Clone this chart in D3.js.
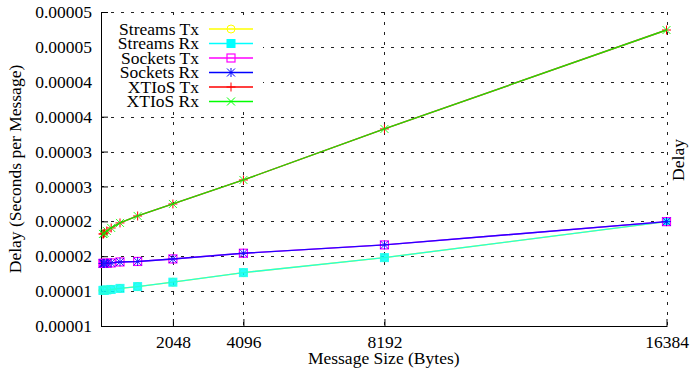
<!DOCTYPE html>
<html>
<head>
<meta charset="utf-8">
<script src="https://cdn.jsdelivr.net/npm/d3@7"></script>
<style>
  body { margin: 0; background: #fff; }
  svg { display: block; }
  svg text { font-family: "Liberation Serif", "Times New Roman", Times, "DejaVu Serif", serif; fill: #000; }
</style>
</head>
<body>
<div class="d3-here"></div>
<script>
// data
var sizes = [16, 32, 64, 128, 256, 512, 1024, 2048, 4096, 8192, 16384];
var streamsTx = [1.010e-5, 1.010e-5, 1.012e-5, 1.017e-5, 1.024e-5, 1.039e-5, 1.065e-5, 1.128e-5, 1.265e-5, 1.480e-5, 1.996e-5];
var streamsRx = [1.010e-5, 1.010e-5, 1.012e-5, 1.017e-5, 1.024e-5, 1.039e-5, 1.065e-5, 1.128e-5, 1.265e-5, 1.480e-5, 1.996e-5];
var socketsTx = [1.397e-5, 1.397e-5, 1.397e-5, 1.399e-5, 1.404e-5, 1.418e-5, 1.425e-5, 1.461e-5, 1.543e-5, 1.662e-5, 1.996e-5];
var socketsRx = [1.397e-5, 1.397e-5, 1.397e-5, 1.399e-5, 1.404e-5, 1.418e-5, 1.425e-5, 1.461e-5, 1.543e-5, 1.662e-5, 1.996e-5];
var xtiosTx = [1.819e-5, 1.819e-5, 1.834e-5, 1.862e-5, 1.905e-5, 1.977e-5, 2.077e-5, 2.249e-5, 2.593e-5, 3.324e-5, 4.742e-5];
var xtiosRx = [1.819e-5, 1.819e-5, 1.834e-5, 1.862e-5, 1.905e-5, 1.977e-5, 2.077e-5, 2.249e-5, 2.593e-5, 3.324e-5, 4.742e-5];

var seriesNames = ['Streams Tx', 'Streams Rx', 'Sockets Tx', 'Sockets Rx', 'XTIoS Tx', 'XTIoS Rx'];
var seriesValues = [streamsTx, streamsRx, socketsTx, socketsRx, xtiosTx, xtiosRx];
var seriesColors = ['#ffff00', '#00ffff', '#ff00ff', '#0000ff', '#ff0000', '#00ff00'];
var seriesMarks = ['circle', 'square', 'openSquare', 'star', 'plus', 'cross'];

var xTicks = [2048, 4096, 8192, 16384];
var yTicks = [0.000005, 0.00001, 0.000015, 0.00002, 0.000025, 0.00003, 0.000035, 0.00004, 0.000045, 0.00005];
var yTickLabels = ['0.00001', '0.00001', '0.00002', '0.00002', '0.00003', '0.00003', '0.00004', '0.00004', '0.00005', '0.00005'];

// options
var width = 690, height = 376;
var plotLeft = 101, plotRight = 666.5, plotTop = 12, plotBottom = 326;
var fontSize = 17.5;

var x = d3.scaleLinear().domain([-40, 16384]).range([plotLeft, plotRight]);
var y = d3.scaleLinear().domain([0.000005, 0.00005]).range([plotBottom, plotTop]);

var svg = d3.select('.d3-here').append('svg')
  .attr('width', width)
  .attr('height', height);

// grid
var grid = svg.append('g').attr('class', 'grid')
  .attr('stroke', '#222').attr('stroke-width', 1).attr('stroke-dasharray', '3,7');
grid.selectAll('.gy').data(yTicks.slice(1)).enter().append('line')
  .attr('x1', plotLeft).attr('x2', plotRight)
  .attr('y1', function(d) { return Math.round(y(d)) + 0.5; })
  .attr('y2', function(d) { return Math.round(y(d)) + 0.5; });
grid.selectAll('.gx').data(xTicks).enter().append('line')
  .attr('y1', plotTop).attr('y2', plotBottom)
  .attr('x1', function(d) { return Math.round(x(d)) + 0.5; })
  .attr('x2', function(d) { return Math.round(x(d)) + 0.5; });

// axes (ticks pointing inward, like the original)
var yAxis = d3.axisLeft(y).tickValues(yTicks).tickSize(-7).tickPadding(9)
  .tickFormat(function(d, i) { return yTickLabels[i]; });
var gy = svg.append('g').attr('transform', 'translate(' + plotLeft + ',0)').call(yAxis);

var xAxis = d3.axisBottom(x).tickValues(xTicks).tickSize(-7).tickPadding(10)
  .tickFormat(d3.format('d'));
var gx = svg.append('g').attr('transform', 'translate(0,' + plotBottom + ')').call(xAxis);

[gy, gx].forEach(function(g) {
  g.attr('font-family', null).attr('font-size', fontSize);
  g.select('.domain').remove();
  g.selectAll('line').attr('stroke', '#000');
});

svg.append('path')
  .attr('d', 'M' + (plotLeft + 0.5) + ',' + plotTop + 'V' + (plotBottom + 0.5) + 'H' + (plotRight + 1))
  .attr('fill', 'none').attr('stroke', '#000').attr('stroke-width', 1);

// axis titles
svg.append('text')
  .attr('x', (plotLeft + plotRight) / 2).attr('y', 364)
  .attr('text-anchor', 'middle').attr('font-size', fontSize)
  .text('Message Size (Bytes)');
svg.append('text')
  .attr('transform', 'translate(21,' + ((plotTop + plotBottom) / 2) + ') rotate(-90)')
  .attr('text-anchor', 'middle').attr('font-size', fontSize)
  .text('Delay (Seconds per Message)');
svg.append('text')
  .attr('transform', 'translate(684,160) rotate(-90)')
  .attr('text-anchor', 'middle').attr('font-size', fontSize)
  .text('Delay');

// markers
function drawMark(g, kind, color, cx, cy) {
  var s = 4;
  if (kind === 'circle') {
    g.append('circle').attr('cx', cx).attr('cy', cy).attr('r', s)
      .attr('fill', 'none').attr('stroke', color).attr('stroke-width', 1);
  } else if (kind === 'square') {
    g.append('rect').attr('x', cx - s).attr('y', cy - s).attr('width', 2 * s).attr('height', 2 * s)
      .attr('fill', color).attr('stroke', color).attr('stroke-width', 1);
  } else if (kind === 'openSquare') {
    g.append('rect').attr('x', cx - s).attr('y', cy - s).attr('width', 2 * s).attr('height', 2 * s)
      .attr('fill', 'none').attr('stroke', color).attr('stroke-width', 1.2);
  } else {
    var p = d3.path();
    if (kind === 'plus' || kind === 'star') {
      p.moveTo(cx - s - 0.5, cy); p.lineTo(cx + s + 0.5, cy);
      p.moveTo(cx, cy - s - 0.5); p.lineTo(cx, cy + s + 0.5);
    }
    if (kind === 'cross' || kind === 'star') {
      p.moveTo(cx - s, cy - s); p.lineTo(cx + s, cy + s);
      p.moveTo(cx - s, cy + s); p.lineTo(cx + s, cy - s);
    }
    g.append('path').attr('d', p.toString()).attr('fill', 'none')
      .attr('stroke', color).attr('stroke-width', 1);
  }
}

// series: lines and points (Rx drawn over Tx, slightly see-through)
var line = d3.line()
  .x(function(d) { return x(d[0]); })
  .y(function(d) { return y(d[1]); });

var plot = svg.append('g').attr('class', 'series');
seriesValues.forEach(function(vals, k) {
  var pts = sizes.map(function(s, i) { return [s, vals[i]]; });
  var g = plot.append('g').attr('opacity', k % 2 ? 0.85 : 1);
  g.append('path').datum(pts)
    .attr('d', line)
    .attr('fill', 'none')
    .attr('stroke', seriesColors[k])
    .attr('stroke-width', 1.4);
  pts.forEach(function(d) {
    drawMark(g, seriesMarks[k], seriesColors[k], x(d[0]), y(d[1]));
  });
});

// legend with white box
var legend = svg.append('g').attr('class', 'legend');
legend.append('rect')
  .attr('x', plotLeft + 1).attr('y', 19).attr('width', 161).attr('height', 92)
  .attr('fill', '#fff');
seriesNames.forEach(function(name, k) {
  var cy = 29 + k * 14.5;
  legend.append('text')
    .attr('x', 199).attr('y', cy + 5.5)
    .attr('text-anchor', 'end').attr('font-size', fontSize)
    .text(name);
  legend.append('line')
    .attr('x1', 209).attr('x2', 253).attr('y1', cy).attr('y2', cy)
    .attr('stroke', seriesColors[k]).attr('stroke-width', 1.4);
  drawMark(legend, seriesMarks[k], seriesColors[k], 231, cy);
});
</script>
</body>
</html>
